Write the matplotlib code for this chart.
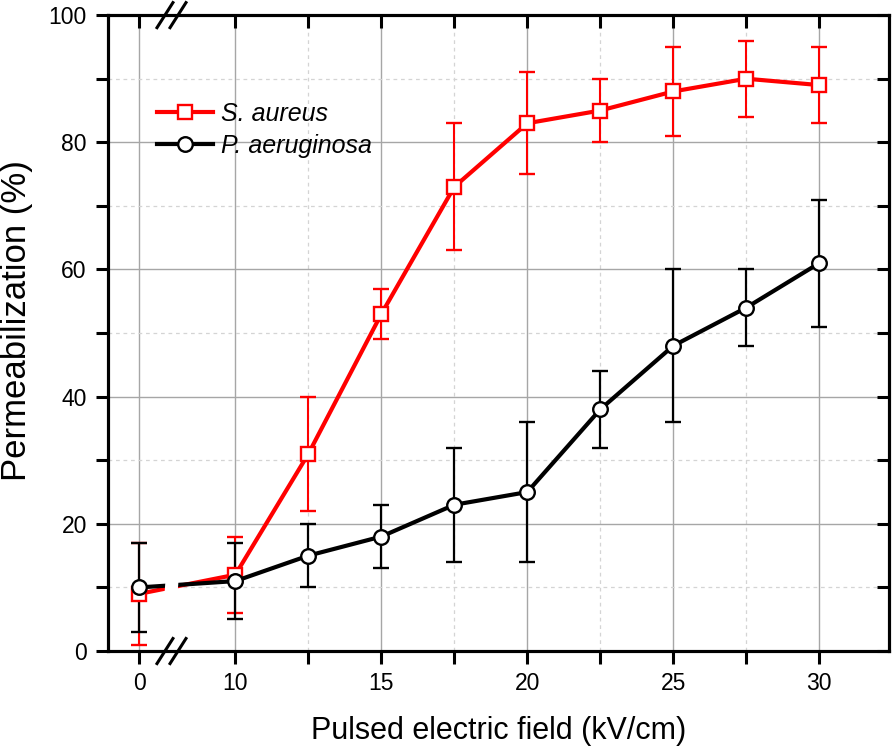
import numpy as np
import matplotlib
matplotlib.use("Agg")
import matplotlib.pyplot as plt
from matplotlib.patches import Polygon
from matplotlib.lines import Line2D

plt.rcParams['font.family'] = ['Liberation Sans', 'DejaVu Sans']

# data
field = [0, 10, 12.5, 15, 17.5, 20, 22.5, 25, 27.5, 30]
s_aureus = [9, 12, 31, 53, 73, 83, 85, 88, 90, 89]
s_aureus_err = [8, 6, 9, 4, 10, 8, 5, 7, 6, 6]
p_aeruginosa = [10, 11, 15, 18, 23, 25, 38, 48, 54, 61]
p_aeruginosa_err = [7, 6, 5, 5, 9, 11, 6, 12, 6, 10]

x_major = [0, 10, 15, 20, 25, 30]
x_minor = [12.5, 17.5, 22.5, 27.5]
y_major = [0, 20, 40, 60, 80, 100]
y_minor = [10, 30, 50, 70, 90]

# broken x axis: 0..10 squeezed into a short piece
K = 0.329


def fwd(x):
    x = np.asarray(x, dtype=float)
    return np.where(x < 10, 10 - (10 - x) * K, x)


def inv(x):
    x = np.asarray(x, dtype=float)
    return np.where(x < 10, 10 - (10 - x) / K, x)


XLIM = (-3.29, 32.39)
YLIM = (0, 100)
SPINE = 2.2
TICKLEN = 9
RED = '#ff0000'

fig = plt.figure(figsize=(8.96, 7.49), dpi=100)
ax = fig.add_axes([0.1202, 0.1308, 0.872, 0.849])
ax.set_xscale('function', functions=(fwd, inv))
ax.set_xlim(*XLIM)
ax.set_ylim(*YLIM)

ax.set_xticks(x_major)
ax.set_xticks(x_minor, minor=True)
ax.set_yticks(y_major)
ax.set_yticks(y_minor, minor=True)
ax.grid(which='major', color='#a6a6a6', lw=1.0, ls='-')
ax.grid(which='minor', color='#d4d4d4', lw=0.9, ls=(0, (3, 3)))
ax.set_axisbelow(True)
ax.tick_params(which='both', direction='out', length=TICKLEN, width=SPINE,
               labelsize=16.5, pad=6, top=False, right=False)
for sp in ax.spines.values():
    sp.set_linewidth(SPINE)

# inward ticks on top and right
top = ax.twiny()
top.set_xscale('function', functions=(fwd, inv))
top.set_xlim(*XLIM)
top.set_xticks(x_major)
top.set_xticks(x_minor, minor=True)
top.tick_params(which='both', direction='in', length=TICKLEN, width=SPINE,
                labeltop=False)
right = ax.twinx()
right.set_ylim(*YLIM)
right.set_yticks(y_major)
right.set_yticks(y_minor, minor=True)
right.tick_params(which='both', direction='in', length=TICKLEN, width=SPINE,
                  labelright=False)
for a in (top, right):
    for sp in a.spines.values():
        sp.set_linewidth(SPINE)

ax.errorbar(field, s_aureus, yerr=s_aureus_err, color=RED, lw=3.0,
            marker='s', ms=9.5, mfc='white', mec=RED, mew=1.7,
            elinewidth=1.5, capsize=6, capthick=1.5)
ax.errorbar(field, p_aeruginosa, yerr=p_aeruginosa_err, color='black', lw=3.0,
            marker='o', ms=10.5, mfc='white', mec='black', mew=1.7,
            elinewidth=1.6, capsize=6, capthick=1.6)

# axis break: white gap in the lines and the // marks on both spines
dx, dy = 0.0102, 0.0197
for cx in (0.0733, 0.0900):
    for cy in (0.0, 1.0):
        ax.plot([cx - dx, cx + dx], [cy - dy, cy + dy], color='black',
                lw=2.2, transform=ax.transAxes, clip_on=False, zorder=5)
gap = Polygon([(0.0733 - 0.004, 0.03), (0.0900 - 0.004, 0.03),
               (0.0900 + 0.004, 0.17), (0.0733 + 0.004, 0.17)],
              closed=True, facecolor='white', edgecolor='none',
              transform=ax.transAxes, zorder=4)
ax.add_patch(gap)

ax.set_xlabel('Pulsed electric field (kV/cm)', fontsize=22, labelpad=15)
ax.set_ylabel('Permeabilization (%)', fontsize=25)
ax.yaxis.set_label_coords(-0.095, 0.52)

handles = [
    Line2D([], [], color=RED, lw=3.0, marker='s', ms=9.5, mfc='white',
           mec=RED, mew=1.7),
    Line2D([], [], color='black', lw=3.0, marker='o', ms=10.5, mfc='white',
           mec='black', mew=1.7),
]
leg = ax.legend(handles, ['S. aureus', 'P. aeruginosa'], loc='upper left',
                bbox_to_anchor=(157 / 896, 1 - 102 / 749),
                bbox_transform=fig.transFigure, frameon=False, fontsize=18,
                handlelength=2.25, handletextpad=0.3, labelspacing=0.3,
                borderpad=0, borderaxespad=0)
for t in leg.get_texts():
    t.set_fontstyle('italic')

fig.savefig('out.png', dpi=100)
